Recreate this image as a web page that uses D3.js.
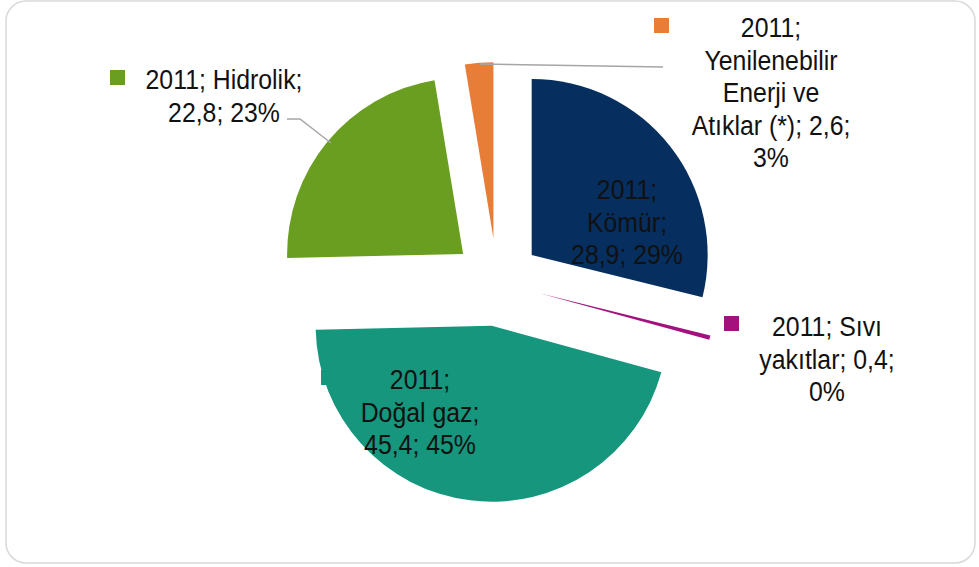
<!DOCTYPE html>
<html><head><meta charset="utf-8">
<script src="https://cdn.jsdelivr.net/npm/d3@7"></script>
<style>
html,body{margin:0;padding:0;background:#fff;}
svg{display:block;}
text{font-family:"Century Gothic","Liberation Sans",Arial,sans-serif;fill:#111;}
</style></head><body>
<svg id="chart" width="979" height="567"></svg>
<script>
// ---- data ----
const year = "2011";
const categories = ["Kömür", "Sıvı yakıtlar", "Doğal gaz", "Hidrolik", "Yenilenebilir Enerji ve Atıklar (*)"];
const values = [28.9, 0.4, 45.4, 22.8, 2.6];
const colors = ["#062e5e", "#a3117f", "#16967c", "#6a9e20", "#e87d37"];

// ---- layout ----
const W = 979, H = 567;
const cx = 497, cy = 282, R = 176, explode = 44;
const fontSize = 27, lineH = 32.5, squeeze = 0.92;
// label line splits (text breaks) and placement per slice
const labelLayout = [
  {breaks:[1,2], x:627, y:190, key:null},
  {breaks:[2,4], x:827, y:327, key:[724,316]},
  {breaks:[1,3], x:420, y:380, key:[321,370]},
  {breaks:[2], x:224, y:80, key:[110,70]},
  {breaks:[1,2,4,7], x:771, y:28, key:[654,18]}
];
const leaders = [null, null, null, [[287,119],[300,119],[331,143]], [[480,64],[663,67]]];

const svg = d3.select("#chart");
svg.append("rect").attr("x",6).attr("y",1).attr("width",W-10).attr("height",H-5)
  .attr("rx",20).attr("fill","#fff").attr("stroke","#d9d9d9").attr("stroke-width",1.5);

const total = d3.sum(values);
const pie = d3.pie().sort(null).value(d=>d)(values);
const arc = d3.arc().innerRadius(0).outerRadius(R);

const g = svg.append("g").attr("transform",`translate(${cx},${cy})`);
g.selectAll("path").data(pie).join("path")
  .attr("d",arc)
  .attr("fill",(d,i)=>colors[i])
  .attr("transform",d=>{
    const a=(d.startAngle+d.endAngle)/2;
    return `translate(${Math.sin(a)*explode},${-Math.cos(a)*explode})`;
  });

// leaders
const line = d3.line();
leaders.forEach(l=>{ if(l) svg.append("path").attr("d",line(l)).attr("fill","none")
  .attr("stroke","#a6a6a6").attr("stroke-width",1.5); });

const fmt = v => d3.format(".1f")(v).replace(".",",");
pie.forEach((d,i)=>{
  const tokens = [year+";"].concat(categories[i].split(" ").map((w,k,arr)=>k===arr.length-1?w+";":w))
    .concat([fmt(values[i])+";", Math.round(values[i]/total*100)+"%"]);
  const L = labelLayout[i];
  const cuts=[0].concat(L.breaks).concat([tokens.length]);
  const lines=[];
  for(let k=0;k<cuts.length-1;k++) lines.push(tokens.slice(cuts[k],cuts[k+1]).join(" "));
  if(L.key) svg.append("rect").attr("x",L.key[0]).attr("y",L.key[1]).attr("width",15).attr("height",15).attr("fill",colors[i]);
  const t = svg.append("text").attr("text-anchor","middle")
    .attr("transform",`translate(${L.x},${L.y}) scale(${squeeze},1)`)
    .style("font-size",fontSize+"px");
  lines.forEach((s,k)=>t.append("tspan").attr("x",0).attr("y",k*lineH).attr("dy","0.35em").text(s));
});
</script>
</body></html>
